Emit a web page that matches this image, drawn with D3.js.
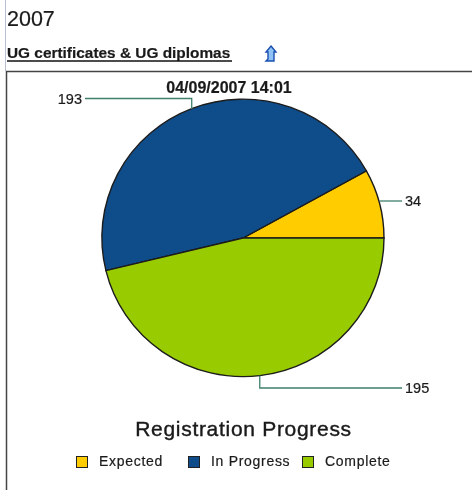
<!DOCTYPE html>
<html>
<head>
<meta charset="utf-8">
<script src="https://cdn.jsdelivr.net/npm/d3@7"></script>
<style>
  html, body { margin: 0; padding: 0; background: #fff; overflow: hidden; }
  svg { filter: blur(0.35px); }
  text { font-family: "Liberation Sans", Arial, sans-serif; fill: #1a1a1a; stroke: #1a1a1a; stroke-width: 0.2px; }
</style>
</head>
<body>
<div id="chart"></div>
<script>
const categories = ["Expected", "In Progress", "Complete"];
const values = [34, 193, 195];
const colors = ["#ffcc00", "#0f4c8a", "#99cc00"];

const width = 472, height = 490;
const cx = 243, cy = 238;
const rx = 141, ry = 138.5;

const svg = d3.select("#chart").append("svg")
  .attr("width", width)
  .attr("height", height);

// Page heading
svg.append("line")
  .attr("x1", 5.5).attr("x2", 5.5)
  .attr("y1", 0).attr("y2", 71)
  .attr("stroke", "#b9bed0");

svg.append("text").attr("x", 7).attr("y", 26)
  .style("font-size", "21.5px")
  .text("2007");

svg.append("text").attr("x", 7).attr("y", 58)
  .style("font-size", "15.4px")
  .style("font-weight", "bold")
  .text("UG certificates & UG diplomas");

svg.append("line")
  .attr("x1", 7).attr("x2", 232)
  .attr("y1", 61).attr("y2", 61)
  .attr("stroke", "#111")
  .attr("stroke-width", 1.3);

// Up arrow icon
svg.append("path")
  .attr("d", "M271,46 L276,52 L274,52 L274,61 L266,61 L268,59 L268,52 L266,52 Z")
  .attr("fill", "#8fc3f5")
  .attr("stroke", "#1a4fb0")
  .attr("stroke-width", 1.4);

// Frame round the chart
svg.append("path")
  .attr("d", `M6.5,490 V71.5 H${width}`)
  .attr("fill", "none")
  .attr("stroke", "#444")
  .attr("stroke-width", 1.5);

svg.append("text").attr("x", 229).attr("y", 93)
  .attr("text-anchor", "middle")
  .style("font-size", "16px")
  .style("font-weight", "bold")
  .text("04/09/2007 14:01");

// Pie starts at 3 o'clock and runs counter-clockwise
const pie = d3.pie()
  .sort(null)
  .startAngle(Math.PI / 2)
  .endAngle(Math.PI / 2 - 2 * Math.PI);

const arcs = pie(values);

const arc = d3.arc().innerRadius(0).outerRadius(1);

const pieG = svg.append("g")
  .attr("transform", `translate(${cx},${cy}) scale(${rx},${ry})`);

pieG.selectAll("path")
  .data(arcs)
  .enter()
  .append("path")
  .attr("d", arc)
  .attr("fill", (d, i) => colors[i])
  .attr("stroke", "#1c1c1c")
  .attr("stroke-width", 1.4)
  .attr("vector-effect", "non-scaling-stroke");

// Leader lines go from the middle of each slice's rim to its label
const rim = (d) => {
  const a = (d.startAngle + d.endAngle) / 2;
  return [cx + rx * Math.sin(a), cy - ry * Math.cos(a)];
};

const labelEnds = [
  { y: 201, x: 402, anchor: "start", straight: true },
  { y: 98.5, x: 85, anchor: "end" },
  { y: 388, x: 402, anchor: "start" },
];

arcs.forEach((d, i) => {
  const [px, py] = rim(d);
  const end = labelEnds[i];
  const ly = end.y;
  svg.append("path")
    .attr("d", `M${px},${end.straight ? ly : py} V${ly} H${end.x}`)
    .attr("fill", "none")
    .attr("stroke", "#3f7f6b")
    .attr("stroke-width", 1.3);
  svg.append("text")
    .attr("x", end.anchor === "start" ? end.x + 3 : end.x - 3)
    .attr("y", ly + 5)
    .attr("text-anchor", end.anchor)
    .style("font-size", "14.5px")
    .text(d.data);
});

// Title and legend below the pie
svg.append("text").attr("x", 243.5).attr("y", 436)
  .attr("text-anchor", "middle")
  .style("font-size", "21px")
  .style("letter-spacing", "0.7px")
  .style("stroke-width", "0.4px")
  .text("Registration Progress");

const legendX = [76, 188, 302];

const legend = svg.selectAll(".legend")
  .data(categories)
  .enter()
  .append("g")
  .attr("class", "legend")
  .attr("transform", (d, i) => `translate(${legendX[i]},456)`);

legend.append("rect")
  .attr("x", 0.5).attr("y", 0.5)
  .attr("width", 11).attr("height", 11)
  .attr("fill", (d, i) => colors[i])
  .attr("stroke", "#222");

legend.append("text")
  .attr("x", 23)
  .attr("y", 10)
  .style("font-size", "14px")
  .style("letter-spacing", "0.7px")
  .text((d) => d);
</script>
</body>
</html>
